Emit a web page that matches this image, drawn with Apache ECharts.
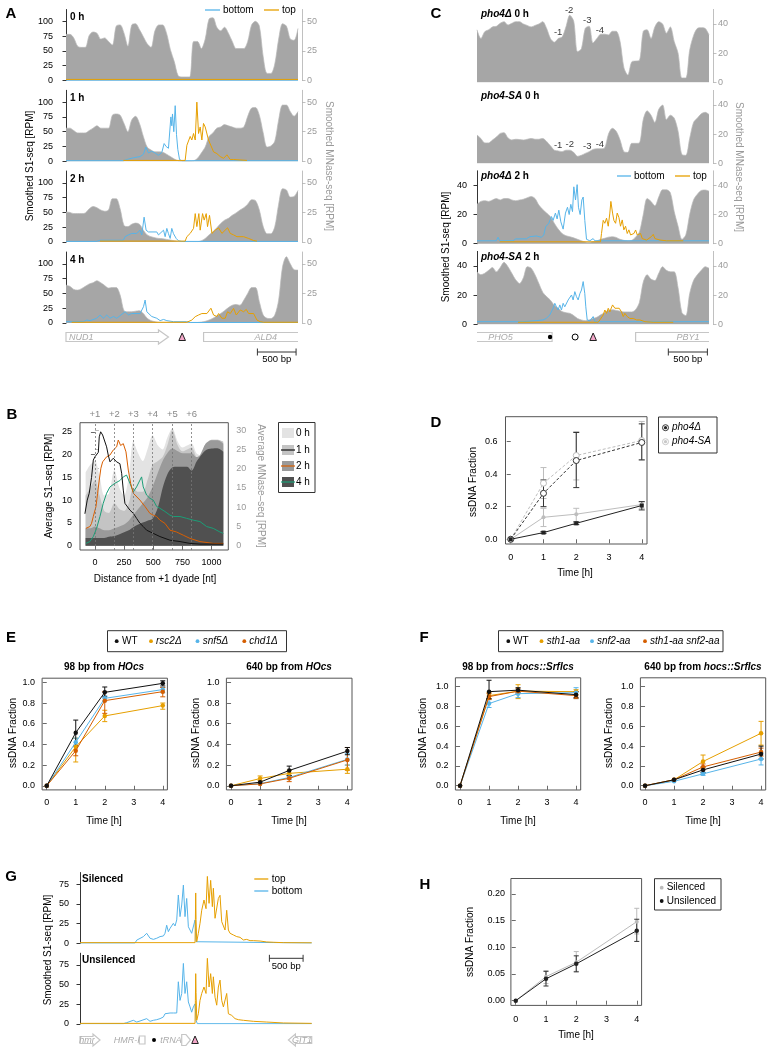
<!DOCTYPE html>
<html>
<head>
<meta charset="utf-8">
<title>S1-seq figure</title>
<script src="https://cdn.jsdelivr.net/npm/echarts@6.0.0/dist/echarts.min.js"></script>
<style>
html,body{margin:0;padding:0;background:#fff;}
#chart{width:774px;height:1050px;}
</style>
</head>
<body>
<div id="chart"></div>
<script>
// ======================= DATA =======================
// genomic positions (bp) for MNase profiles in panels A and C
const posA = [0,50,100,150,200,250,300,350,400,450,500,550,600,650,700,750,800,850,900,950,1000,1050,1100,1150,1200,1250,1300,1350,1400,1450,1500,1550,1600,1650,1700,1750,1800,1850,1900,1950,2000,2050,2100,2150,2200,2250,2300,2350,2400,2450,2500,2550,2600,2650,2700,2750,2800,2850,2900,2950,3000];

// Panel A: smoothed MNase-seq (RPM)
const mnA0 = [39,39,36,29,28,28,38,41,40,35,36,33,30,46,47,40,29,47,48,43,37,31,28,42,47,47,40,26,16,4,3,3,3,33,33,27,35,52,53,45,42,45,40,33,27,27,27,33,47,50,46,20,6,6,14,35,48,46,35,34,44];
const mnA1 = [28,28,26,24,24,24,26,28,30,28,28,28,39,40,39,32,25,35,38,32,21,12,9.5,8,8,7.6,6,4,2,0.5,0.3,0.3,0.3,0.5,2.5,7,12,21,24,28,29,31,30,29,28,28,29,38,45,45.5,39,24,12,13,17,35,47.5,47.5,42,38,42];
const mnA2 = [25.4,25,24,24,24,24.5,28,30,29,27,26,27,36.6,36.6,28,14,13,15,16,15,10,6,4.5,3.6,3,2.8,2.2,1.7,1,0.5,0.3,0.3,0.3,0.3,0.3,1,3,6,8.7,12,15.6,18.4,20,22.6,24.6,27,29,32,35.8,35,27,13,7,7,13,32,45,44,38,38.5,43.6];
const mnA4 = [32,31,28.4,27.8,29,31,33,34,35.7,34,31.7,29.5,30,30,23.6,10.4,9.5,9.5,10,10.4,8,4,2,1.1,0.5,0.5,0.5,0.5,0.5,0.5,0.5,0.5,0.5,0.5,0.5,0.8,1.4,2.5,4,6,8,10.4,13,15,15.7,15,19.4,25,30,30,18,6.7,4,3.7,6.7,19.4,47.5,56,50,45,44.7];

// Panel A: smoothed S1-seq (RPM), [bp, value]
const s1A0bottom = [[0,0.6],[3000,0.6]];
const s1A0top = [[0,1.8],[3000,1.8]];
const s1A1bottom = [[0,1],[742,1],[786,3],[872,6],[958,8],[1002,12],[1032,24],[1066,14],[1109,17],[1153,14],[1196,10],[1239,15],[1269,30],[1295,25],[1325,22],[1356,75],[1368,60],[1377,80],[1394,50],[1412,94],[1429,45],[1446,20],[1468,3],[1498,1],[3000,1]];
const s1A1top = [[742,1.5],[1541,1.5],[1563,27],[1585,30],[1606,42],[1627,36],[1649,47],[1671,36],[1692,100],[1714,47],[1735,58],[1757,36],[1778,64],[1800,58],[1822,61],[1843,36],[1865,39],[1908,16],[1951,13],[1973,16],[1994,8],[2038,5],[2081,11],[2124,3],[2167,3],[2340,1.5]];
const s1A2bottom = [[0,1],[397,1],[440,3],[742,3],[764,9],[807,12],[850,14.5],[915,14.5],[958,20],[980,12],[1010,42],[1036,20],[1066,17],[1174,17],[1196,12],[1261,20],[1282,9],[1304,23],[1325,14],[1347,6],[1368,23],[1390,14],[1425,6],[1455,2],[1498,1],[3000,1]];
const s1A2top = [[440,1.5],[1541,1.5],[1563,9],[1606,14.5],[1649,23],[1671,48],[1692,26],[1718,48],[1735,20],[1766,48],[1787,37],[1813,48],[1830,26],[1856,45],[1887,14.5],[1930,20],[1973,24],[2016,14.5],[2089,24],[2124,14.5],[2167,12],[2210,9],[2297,9],[2318,12],[2361,6],[2426,2.5],[2469,1.5]];
const s1A4bottom = [[0,2.2],[224,2.2],[268,5],[311,4],[397,8],[440,13.5],[484,8],[527,13.5],[570,8],[613,11],[656,8],[764,19],[807,13.5],[850,16],[958,16],[980,19],[1002,27.5],[1023,38.8],[1045,19],[1066,16],[1109,11],[1174,8],[1217,4],[1261,6],[1304,4],[1390,2.2],[1563,2.2],[1606,0.8],[3000,0.8]];
const s1A4top = [[73,1.2],[1563,1.2],[1627,5],[1671,10.7],[1714,13.5],[1757,16],[1778,13.5],[1822,16],[1874,25],[1908,13.5],[1951,11],[1973,16],[2016,8],[2059,8],[2089,19],[2124,16],[2167,24.7],[2202,13.5],[2253,22],[2297,19],[2331,23],[2361,16],[2426,16],[2469,5],[2512,2.2],[2556,1.2],[3000,1.2]];

// Panel C: smoothed MNase-seq (RPM)
const mnCd0 = [36,30,34.7,36,38,38.4,40.5,41.6,39.3,40.5,41.6,41.6,40,39,38,39,40,41.6,37,30,27.5,30,31,38,46,42,21,23,37,38.5,27,30,33,33,32.5,35,35,28,10,5,14,14.6,15,35,36,30,38,41.6,40,33.7,38,28,20,3,3,22,32,37,37.5,37,32.5];
const mnCsa0 = [19.4,17,14,14,16,18,20.5,21,17.5,16,16.5,16.3,16,16.5,17,16.5,16.5,17,15,12,9,8.5,8,9,9,7.5,4.8,5.5,6.8,8,9.5,10,10,10.5,20,24,22,16,8,7.5,13.7,13.7,14,30,36,33,28,37,40,30,33,31,22,6,5.5,17,28,31,34,35,33.5];
const mnCd2 = [27,29,29.5,29,30,31,30,31,31,30,29.5,30,30.5,31.5,32.4,31,26.5,23.5,21,18.5,14,10,7,5.5,4.8,4,3,2,1.2,0.8,1.5,2,3,3.7,4.5,4.8,4.3,3,2.3,2,2.3,4.5,8,20,31,29,26,32,37,37,35,22,12,3,6,20,30,34,36.5,36.8,36];
const mnCsa2 = [36,34,35,37,39,36,39,42.5,39.5,35,30.5,28,32,39.5,38.5,34,28,22,19,16.5,13,11,8.7,8,7.5,6,4,3,2.5,3,4,4.8,6.5,8,9.6,10,9.5,9,8.5,8.5,8.5,10,15,29,34,31,30,35,39.5,37,36,36,25,8,6,21,30,34,37,39.5,38.5];
// Panel C nucleosome labels [bp, MNase, label]
const nucCd0 = [[1049,34.3,'-1'],[1192,49.4,'-2'],[1425,42.7,'-3'],[1589,35.4,'-4']];
const nucCsa0 = [[1049,12.1,'-1'],[1200,13.3,'-2'],[1425,11.4,'-3'],[1589,13.3,'-4']];
// Panel C: smoothed S1-seq
const s1Cd2bottom = [[0,2],[250,2],[272,4.4],[294,2],[466,2],[501,3.3],[639,3.3],[682,4.8],[768,5.3],[833,4.4],[863,6],[889,11.7],[928,14],[963,18.6],[984,16],[1014,21],[1036,17],[1058,23],[1084,15],[1114,10],[1144,21],[1170,25],[1192,20],[1213,27],[1235,22],[1252,39],[1274,30],[1295,40.5],[1312,25],[1334,20],[1356,30],[1373,32],[1394,16],[1416,3],[1459,2],[1502,3.5],[1524,2],[3000,2]];
const s1Cd2top = [[294,1.3],[1597,1.3],[1610,7],[1632,16],[1653,14],[1675,17.5],[1697,12],[1718,21],[1731,29],[1753,21],[1770,16],[1792,14],[1813,21],[1835,18],[1856,12],[1878,16.3],[1899,9.5],[1921,12],[1943,7],[1964,9.5],[1986,6],[2007,5],[2029,7],[2051,9.4],[2072,6],[2094,5],[2115,7],[2137,3.5],[2193,2.5],[2258,5],[2279,6.4],[2301,3.5],[2366,2.5],[2452,2],[2668,2]];
const s1Csa2bottom = [[0,1.8],[531,1.8],[553,2.5],[596,1.8],[768,2.5],[855,3],[898,4.1],[941,6.4],[984,11],[1006,14.4],[1027,12],[1049,9.8],[1071,13.3],[1092,9.8],[1114,14.4],[1135,12],[1157,11],[1179,16.7],[1200,15.5],[1222,20.1],[1243,16.7],[1265,22.4],[1286,19],[1308,16.7],[1330,21],[1351,23.5],[1373,29.3],[1394,21],[1407,12],[1425,3],[1459,2.3],[1502,5.3],[1524,1.8],[3000,1.8]];
const s1Csa2top = [[531,1.4],[1567,1.4],[1589,3],[1632,6.4],[1653,9.8],[1675,7.5],[1697,11],[1718,8.5],[1727,10],[1753,13.3],[1783,11],[1804,9.8],[1839,11],[1869,8.5],[1891,5.3],[1912,7.5],[1943,5.3],[1977,4],[2020,4],[2064,3],[2107,3],[2171,1.8],[2279,1.4],[2538,1.4]];

// Panel B: average MNase-seq layers and S1-seq lines
const bX = [-80,-40,0,40,80,120,166,210,250,290,329,370,410,450,494,540,580,620,663,710,750,790,829,870,900,950,1000,1050,1100];
const bMN0 = [19,21,22,18,13,13.5,19.6,15,13,18,27,24,22,25,28.7,26,25,28,30.4,27,25.5,26,26.5,24,23.5,26.5,27.5,27.5,26];
const bMN1 = [13,15,17,13,9,8.5,11,9.5,9,11,15,14,14,17,21,22,23,26,30,26,24.5,25,25.5,23,22.5,26,27.5,27.5,27];
const bMN2 = [4.5,4.5,5,4.5,4,4,4.5,5,5.5,6.5,8,9.5,11,12.5,15.3,19,22,24,25.2,24.5,24,24,24,23,23.5,26.5,27.4,27.4,26.5];
const bMN4 = [2,2,2,2,2,2.3,2.5,3,3.5,4,4.8,5.5,6,6.5,7,10,15,18.5,20.3,20.5,20.5,20.5,19.5,21.8,23.1,24.8,25.2,25.3,24.4];
const bS1h1 = [[-86,7],[-66,10],[-49,11.5],[-29,15],[-14,18.8],[0,19.5],[14,19.9],[29,20.5],[37,23.9],[49,25],[66,24.3],[77,23.9],[100,21.7],[114,19.9],[129,18.4],[157,19.2],[186,18.4],[214,18],[229,15.9],[243,12.2],[257,9.3],[300,7.8],[329,7.1],[357,6],[386,4.9],[414,4.2],[443,3.4],[500,2.7],[557,2],[643,1.2],[729,0.9],[814,0.5],[900,0.35],[1100,0.35]];
const bS1h2 = [[-77,3.8],[-43,4.2],[-29,4.9],[-14,6.4],[9,8.6],[23,11.5],[37,14.4],[51,17],[66,18.4],[77,18.8],[100,19.5],[129,19.9],[157,21],[186,21.7],[200,23.2],[220,22],[243,22.4],[266,20.6],[286,16.6],[306,13.7],[329,11.5],[386,10],[429,8.6],[471,7.1],[500,6.7],[529,6.4],[557,5.6],[600,4.9],[643,3.4],[700,3],[757,2.3],[814,1.6],[900,0.9],[1014,0.5],[1100,0.5]];
const bS1h4 = [[-77,0.5],[-43,0.9],[-14,2],[14,3.8],[43,6.4],[71,9.3],[100,11.5],[129,12.9],[171,13.7],[214,14.3],[243,15.1],[271,15.5],[286,15.9],[300,13.7],[329,11.8],[357,12.9],[386,14.4],[400,15.1],[414,12.9],[443,11.1],[471,10.4],[500,10],[529,8.6],[557,8.2],[600,7.5],[643,6.7],[671,6.4],[729,6.4],[786,6],[843,5.6],[900,5.3],[957,4.2],[1014,3.8],[1071,3],[1100,2.7]];
const bNucPos = [0,166,329,494,663,829];
const bNucLab = ['+1','+2','+3','+4','+5','+6'];
const bXTicks = [0,250,500,750,1000];

// Panel D: ssDNA fraction
const timesH = [0,1,2,4];
const dPho4dA = [0,0.041,0.098,0.207];
const dPho4dB = [0,0.282,0.483,0.594];
const dPho4saA = [0,0.135,0.154,0.213];
const dPho4saB = [0,0.344,0.514,0.606];
const dPho4dAErr = [[1,0.035,0.047],[2,0.09,0.106],[4,0.18,0.231]];
const dPho4dBErr = [[1,0.2,0.364],[2,0.317,0.655],[4,0.487,0.708]];
const dPho4saAErr = [[1,0.078,0.19],[2,0.108,0.19],[4,0.19,0.23]];
const dPho4saBErr = [[1,0.25,0.44],[2,0.364,0.661],[4,0.487,0.723]];

// Panel E
const eNames = ['rsc2Δ','snf5Δ','chd1Δ','WT'];
const e98 = {'WT':[0,0.513,0.903,0.99],'rsc2Δ':[0,0.377,0.675,0.775],'snf5Δ':[0,0.42,0.845,0.93],'chd1Δ':[0,0.339,0.823,0.91]};
const e98Err = {'WT':[[1,0.39,0.635],[2,0.86,0.955],[4,0.965,1.015]],'rsc2Δ':[[1,0.23,0.46],[2,0.62,0.73],[4,0.74,0.80]],'snf5Δ':[[1,0.38,0.46],[2,0.82,0.87],[4,0.90,0.95]],'chd1Δ':[[1,0.29,0.38],[2,0.70,0.91],[4,0.86,0.95]]};
const e640 = {'WT':[0,0.035,0.148,0.335],'rsc2Δ':[0,0.07,0.12,0.16],'snf5Δ':[0,0.02,0.08,0.255],'chd1Δ':[0,0.018,0.072,0.25]};
const e640Err = {'WT':[[2,0.10,0.19],[4,0.30,0.37]],'rsc2Δ':[[1,0.05,0.095],[2,0.09,0.15],[4,0.12,0.20]],'snf5Δ':[[2,0.06,0.10],[4,0.20,0.31]],'chd1Δ':[[2,0.04,0.10],[4,0.15,0.37]]};

// Panel F
const fNames = ['sth1-aa','snf2-aa','sth1-aa snf2-aa','WT'];
const f98 = {'WT':[0,0.95,0.965,0.92],'sth1-aa':[0,0.91,0.955,0.95],'snf2-aa':[0,0.83,0.93,0.94],'sth1-aa snf2-aa':[0,0.90,0.955,0.91]};
const f98Err = {'WT':[[1,0.88,1.065],[2,0.94,0.99],[4,0.89,0.95]],'sth1-aa':[[1,0.88,0.94],[2,0.88,1.02],[4,0.92,0.97]],'snf2-aa':[[1,0.79,0.87],[2,0.89,0.97],[4,0.88,0.99]],'sth1-aa snf2-aa':[[1,0.87,0.93],[2,0.93,0.98],[4,0.88,0.95]]};
const f640 = {'WT':[0,0.06,0.16,0.32],'sth1-aa':[0,0.06,0.245,0.53],'snf2-aa':[0,0.045,0.12,0.27],'sth1-aa snf2-aa':[0,0.06,0.19,0.34]};
const f640Err = {'WT':[[2,0.13,0.19],[4,0.27,0.40]],'sth1-aa':[[2,0.18,0.31],[4,0.41,0.65]],'snf2-aa':[[2,0.105,0.135],[4,0.21,0.33]],'sth1-aa snf2-aa':[[2,0.16,0.22],[4,0.30,0.38]]};

// Panel G: smoothed S1-seq at HMR
const gSilBottom = [[0,0.4],[817,0.4],[842,4],[941,8.5],[990,12.7],[1015,10.6],[1040,6.4],[1064,7.6],[1089,5],[1139,6.4],[1188,8.5],[1238,9.3],[1262,12.7],[1287,23],[1312,14.8],[1337,19],[1386,25.4],[1411,22],[1436,29.7],[1460,61.4],[1485,33.9],[1510,48.7],[1535,74],[1559,33.9],[1584,57],[1609,21],[1634,19],[1658,12.7],[1683,10.6],[1708,29.7],[1723,2],[1733,0.4],[3440,0.4]];
const gSilTop = [[0,0.8],[1708,0.8],[1713,30],[1718,64],[1723,30],[1733,2],[1757,12.7],[1782,25.4],[1807,42],[1841,55],[1871,44],[1891,85],[1916,50.8],[1940,80],[1965,46.6],[1980,70],[2005,31.8],[2030,29.7],[2054,57],[2079,61],[2104,27.5],[2129,29.7],[2153,16.9],[2178,42],[2203,16.9],[2228,12.7],[2277,10.6],[2327,8.5],[2376,7.6],[2426,4.2],[2475,5],[2525,3.4],[2574,3.4],[2673,2.9],[2772,1.7],[2871,1.3],[3020,0.8],[3440,0.6]];
const gUnsBottom = [[0,0.4],[644,0.4],[693,1.7],[792,4.7],[842,2.5],[891,3.8],[990,6.8],[1040,3.4],[1089,4.7],[1139,5.5],[1188,6.8],[1238,8.9],[1262,13],[1287,15],[1337,14],[1386,14],[1436,14],[1460,53.7],[1485,30],[1510,38.8],[1535,77],[1559,38.8],[1584,53.7],[1609,28],[1634,21.7],[1658,15],[1683,21.7],[1708,25.6],[1723,4.7],[1742,0.4],[3440,0.4]];
const gUnsTop = [[0,0.8],[1708,0.8],[1713,30],[1718,64],[1723,40],[1733,4.7],[1757,13],[1782,30],[1807,38.8],[1841,47],[1871,38.8],[1891,83.5],[1916,47],[1940,64],[1965,38.8],[1980,60],[2005,34],[2030,23.9],[2054,47],[2079,55.8],[2104,30],[2129,21.7],[2153,21.7],[2178,38.8],[2203,13],[2252,11],[2302,6.8],[2351,5.5],[2426,4.7],[2574,3.4],[2772,2.5],[3020,1.3],[3440,0.8]];

// Panel H
const hSil = [0,0.045,0.072,0.148];
const hUns = [0,0.041,0.069,0.131];
const hSilErr = [[1,0.032,0.056],[2,0.055,0.092],[4,0.125,0.173]];
const hUnsErr = [[1,0.0275,0.055],[2,0.054,0.084],[4,0.111,0.1525]];

// Gene annotations (bp)
const genesA = {nud1:[0,1325], cut:1502, ald4:[1779,3000], bar:[2475,2975]};
const genesC = {pho5:[0,971], uas1:945, uas2:1269, cut:1502, pby1:[2051,3000], bar:[2474,2979]};
const genesG = {hmr:[0,297], hmrI:[881,965], dot:1099, trna:[1510,1640], cut:1708, git1:[3094,3440], bar:[2812,3312]};

// ======================= CHART =======================
const FONT = '"Liberation Sans", Arial, Helvetica, sans-serif';
const BLUE = '#56B4E9', ORANGE = '#E69F00', VERM = '#D55E00', TEAL = '#1B9E77', DORANGE = '#D95F02';
const MN_FILL = '#a6a6a6';
const eColors = {'WT':'#111111','rsc2Δ':ORANGE,'snf5Δ':BLUE,'chd1Δ':VERM};
const fColors = {'WT':'#111111','sth1-aa':ORANGE,'snf2-aa':BLUE,'sth1-aa snf2-aa':VERM};

const chart = echarts.init(document.getElementById('chart'));
const grids = [], xAxes = [], yAxes = [], series = [];

function addGrid(l, t, w, h, frame) {
  grids.push({left: l, top: t, width: w, height: h, show: !!frame, borderColor: '#555', borderWidth: frame ? 1 : 0, backgroundColor: 'rgba(0,0,0,0)', containLabel: false});
  return grids.length - 1;
}
function addHiddenX(g, max) {
  xAxes.push({gridIndex: g, type: 'value', min: 0, max: max, show: false});
  return xAxes.length - 1;
}
function addTrackY(g, position, max, ticks, show, right, offset, margin) {
  const lc = right ? '#b0b0b0' : '#000';
  const tc = right ? '#9a9a9a' : '#000';
  yAxes.push({gridIndex: g, type: 'value', position: position, min: 0, max: max, offset: offset, show: show,
    axisLine: {show: true, lineStyle: {color: lc, width: 0.8}},
    axisTick: {show: true, length: 3.5, customValues: ticks, lineStyle: {color: lc, width: 0.8}},
    axisLabel: {show: true, customValues: ticks, fontSize: 9, fontFamily: FONT, color: tc, margin: margin},
    splitLine: {show: false}});
  return yAxes.length - 1;
}
function addMN(xi, yr, mn) {
  series.push({type: 'line', xAxisIndex: xi, yAxisIndex: yr, data: posA.map((p, i) => [p, mn[i]]), symbol: 'none', smooth: 0.3,
    lineStyle: {color: '#b8b8b8', width: 0.7}, areaStyle: {color: MN_FILL, opacity: 1}, z: 1, silent: true});
}
function addS1(xi, yl, data, color, z) {
  series.push({type: 'line', xAxisIndex: xi, yAxisIndex: yl, data: data, symbol: 'none', lineStyle: {color: color, width: 1}, z: z, silent: true});
}
function errSeries(xi, yi, data, color, w) {
  return {type: 'custom', xAxisIndex: xi, yAxisIndex: yi, data: data, encode: {x: 0, y: [1, 2]}, z: 4, silent: true,
    renderItem: function (params, api) {
      const x = api.value(0), lo = api.value(1), hi = api.value(2);
      const a = api.coord([x, lo]), b = api.coord([x, hi]);
      const st = {stroke: color, lineWidth: 1, fill: null};
      return {type: 'group', children: [
        {type: 'line', shape: {x1: a[0], y1: a[1], x2: b[0], y2: b[1]}, style: st},
        {type: 'line', shape: {x1: a[0] - w, y1: a[1], x2: a[0] + w, y2: a[1]}, style: st},
        {type: 'line', shape: {x1: b[0] - w, y1: b[1], x2: b[0] + w, y2: b[1]}, style: st}]};
    }};
}
function rAxes(g, xr, xt, yr, yt, yfmt, xm, ym) {
  const xi = xAxes.length;
  xAxes.push({gridIndex: g, type: 'value', min: xr[0], max: xr[1], axisLine: {show: false},
    axisTick: {show: true, length: 4, customValues: xt, lineStyle: {color: '#444', width: 0.8}},
    axisLabel: {customValues: xt, formatter: function (v) { return String(v); }, fontSize: 9, fontFamily: FONT, color: '#000', margin: xm}, splitLine: {show: false}});
  const yi = yAxes.length;
  yAxes.push({gridIndex: g, type: 'value', min: yr[0], max: yr[1], axisLine: {show: false},
    axisTick: {show: true, length: 4, customValues: yt, lineStyle: {color: '#444', width: 0.8}},
    axisLabel: {customValues: yt, formatter: yfmt, fontSize: 9, fontFamily: FONT, color: '#000', margin: ym}, splitLine: {show: false}});
  return [xi, yi];
}
function ptLine(xi, yi, ys, color, opts) {
  opts = opts || {};
  series.push({type: 'line', xAxisIndex: xi, yAxisIndex: yi, data: timesH.map((t, i) => [t, ys[i]]),
    symbol: opts.symbol || 'circle', symbolSize: opts.size || 4.5, showSymbol: true,
    itemStyle: opts.hollow ? {color: '#fff', borderColor: color, borderWidth: 1} : {color: color, borderWidth: 0},
    lineStyle: {color: color, width: 1, type: opts.dashed ? [3, 2] : 'solid'}, z: opts.z || 5, silent: true});
}

// ---- Panel A ----
const aTops = [9.5, 90.3, 171, 252];
const aMN = [mnA0, mnA1, mnA2, mnA4];
const aBot = [s1A0bottom, s1A1bottom, s1A2bottom, s1A4bottom];
const aTop = [s1A0top, s1A1top, s1A2top, s1A4top];
const aX = [];
aTops.forEach(function (t, k) {
  const g = addGrid(66, t, 232, 71, false);
  const xi = addHiddenX(g, 3000); aX.push(xi);
  const yl = addTrackY(g, 'left', 120, [0, 25, 50, 75, 100], true, false, 4, 9);
  const yr = addTrackY(g, 'right', 60, [0, 25, 50], true, true, 4, 5);
  addMN(xi, yr, aMN[k]);
  addS1(xi, yl, aBot[k], BLUE, 3);
  addS1(xi, yl, aTop[k], ORANGE, 4);
});

// ---- Panel C ----
const cTops = [9.4, 90.4, 170.8, 251.4];
const cMN = [mnCd0, mnCsa0, mnCd2, mnCsa2];
const cBot = [null, null, s1Cd2bottom, s1Csa2bottom];
const cTop = [null, null, s1Cd2top, s1Csa2top];
const cNuc = [nucCd0, nucCsa0, null, null];
const cX = [];
cTops.forEach(function (t, k) {
  const g = addGrid(477, t, 232, 72.9, false);
  const xi = addHiddenX(g, 3000); cX.push(xi);
  const yl = addTrackY(g, 'left', 50, [0, 20, 40], k >= 2, false, 5, 5);
  const yr = addTrackY(g, 'right', 50, [0, 20, 40], true, true, 4, 5);
  addMN(xi, yr, cMN[k]);
  if (cBot[k]) { addS1(xi, yl, cBot[k], BLUE, 3); addS1(xi, yl, cTop[k], ORANGE, 4); }
  if (cNuc[k]) {
    series.push({type: 'scatter', xAxisIndex: xi, yAxisIndex: yr, data: cNuc[k], symbolSize: 0, z: 6, silent: true,
      label: {show: true, position: 'inside', formatter: function (p) { return p.data[2]; }, fontSize: 9.5, fontFamily: FONT, color: '#000'}});
  }
});

// ---- Panel B ----
const gB = addGrid(80, 422.7, 148.3, 127.3, true);
const xB = xAxes.length;
xAxes.push({gridIndex: gB, type: 'value', min: -128, max: 1143, axisLine: {show: false},
  axisTick: {length: 4, customValues: bXTicks, lineStyle: {color: '#444', width: 0.8}},
  axisLabel: {customValues: bXTicks, formatter: function (v) { return String(Math.round(v)); }, fontSize: 9, fontFamily: FONT, color: '#000', margin: 8}, splitLine: {show: false}});
xAxes.push({gridIndex: gB, type: 'value', position: 'top', min: -128, max: 1143, axisLine: {show: false}, axisTick: {show: false},
  axisLabel: {customValues: bNucPos, formatter: function (v) { const i = bNucPos.findIndex(function (p) { return Math.abs(p - v) < 1; }); return i >= 0 ? bNucLab[i] : ''; },
    fontSize: 9.5, fontFamily: FONT, color: '#888', margin: 3}, splitLine: {show: false}});
const yBl = yAxes.length;
yAxes.push({gridIndex: gB, type: 'value', min: -0.95, max: 27, axisLine: {show: false},
  axisTick: {length: 4, customValues: [0, 5, 10, 15, 20, 25], lineStyle: {color: '#444', width: 0.8}},
  axisLabel: {customValues: [0, 5, 10, 15, 20, 25], fontSize: 9, fontFamily: FONT, color: '#000', margin: 8}, splitLine: {show: false}});
const yBr = yAxes.length;
yAxes.push({gridIndex: gB, type: 'value', position: 'right', min: -1.12, max: 31.93, axisLine: {show: false},
  axisTick: {length: 4, customValues: [0, 5, 10, 15, 20, 25, 30], lineStyle: {color: '#aaa', width: 0.8}},
  axisLabel: {customValues: [0, 5, 10, 15, 20, 25, 30], fontSize: 9, fontFamily: FONT, color: '#9a9a9a', margin: 8}, splitLine: {show: false}});
const bLayers = [[bMN0, '#e3e3e3'], [bMN1, '#c4c4c4'], [bMN2, '#9a9a9a'], [bMN4, '#505050']];
bLayers.forEach(function (L, k) {
  const s = {type: 'line', xAxisIndex: xB, yAxisIndex: yBr, data: bX.map(function (x, i) { return [x, L[0][i]]; }), symbol: 'none', smooth: 0.3,
    lineStyle: {width: 0}, areaStyle: {color: L[1], opacity: 1}, z: 1 + k * 0.1, silent: true};
  if (k === 3) {
    s.markLine = {symbol: ['none', 'none'], silent: true, label: {show: false}, lineStyle: {type: [2, 2], color: '#777', width: 0.8},
      data: bNucPos.map(function (v) { return {xAxis: v}; })};
  }
  series.push(s);
});
[[bS1h4, TEAL], [bS1h2, DORANGE], [bS1h1, '#111']].forEach(function (L, k) {
  series.push({type: 'line', xAxisIndex: xB, yAxisIndex: yBl, data: L[0], symbol: 'none', lineStyle: {color: L[1], width: 1}, z: 3 + k * 0.1, silent: true});
});

// ---- Panel D ----
const gD = addGrid(505.5, 416.7, 141.5, 127.3, true);
const aD = rAxes(gD, [-0.16, 4.16], [0, 1, 2, 3, 4], [-0.029, 0.752], [0, 0.2, 0.4, 0.6], function (v) { return v.toFixed(1); }, 9, 8);
series.push(errSeries(aD[0], aD[1], dPho4saBErr, '#bdbdbd', 3));
series.push(errSeries(aD[0], aD[1], dPho4saAErr, '#bdbdbd', 3));
series.push(errSeries(aD[0], aD[1], dPho4dBErr, '#333', 3));
series.push(errSeries(aD[0], aD[1], dPho4dAErr, '#333', 3));
ptLine(aD[0], aD[1], dPho4saB, '#bdbdbd', {dashed: true, hollow: true, size: 6});
ptLine(aD[0], aD[1], dPho4saA, '#bdbdbd', {size: 4});
ptLine(aD[0], aD[1], dPho4dB, '#333', {dashed: true, hollow: true, size: 6, z: 6});
ptLine(aD[0], aD[1], dPho4dA, '#222', {symbol: 'rect', size: 4, z: 6});

// ---- Panels E & F ----
function groupPanel(l, t, w, h, yr, names, vals, errs, colors) {
  const g = addGrid(l, t, w, h, true);
  const a = rAxes(g, [-0.16, 4.16], [0, 1, 2, 3, 4], yr, [0, 0.2, 0.4, 0.6, 0.8, 1.0], function (v) { return v.toFixed(1); }, 8, 7);
  names.forEach(function (n, k) {
    series.push(errSeries(a[0], a[1], errs[n], colors[n], 2.5));
    ptLine(a[0], a[1], vals[n], colors[n], {size: 4.5, z: 5 + k * 0.1});
  });
}
groupPanel(42.1, 678.2, 125.3, 111.7, [-0.04, 1.04], eNames, e98, e98Err, eColors);
groupPanel(226.4, 678.2, 125.6, 111.7, [-0.04, 1.04], eNames, e640, e640Err, eColors);
groupPanel(455.4, 677.8, 125.3, 112.2, [-0.043, 1.09], fNames, f98, f98Err, fColors);
groupPanel(640.4, 677.8, 125.3, 112.2, [-0.043, 1.09], fNames, f640, f640Err, fColors);

// ---- Panel G ----
const gTops = [872.5, 953.2];
const gData = [[gSilBottom, gSilTop], [gUnsBottom, gUnsTop]];
const gX = [];
gTops.forEach(function (t, k) {
  const g = addGrid(80, t, 231.7, 70.8, false);
  const xi = addHiddenX(g, 3440); gX.push(xi);
  const yl = addTrackY(g, 'left', 90, [0, 25, 50, 75], true, false, 6, 5);
  addS1(xi, yl, gData[k][0], BLUE, 3);
  addS1(xi, yl, gData[k][1], ORANGE, 4);
});

// ---- Panel H ----
const gH = addGrid(510.9, 878.5, 130.7, 126.9, true);
const aH = rAxes(gH, [-0.16, 4.16], [0, 1, 2, 3, 4], [-0.0088, 0.2288], [0, 0.05, 0.1, 0.15, 0.2], function (v) { return v.toFixed(2); }, 10, 6);
series.push(errSeries(aH[0], aH[1], hSilErr, '#bbbbbb', 2.5));
ptLine(aH[0], aH[1], hSil, '#bbbbbb', {size: 4});
series.push(errSeries(aH[0], aH[1], hUnsErr, '#333', 2.5));
ptLine(aH[0], aH[1], hUns, '#222', {size: 4.5, z: 6});

chart.setOption({animation: false, backgroundColor: '#fff', textStyle: {fontFamily: FONT}, grid: grids, xAxis: xAxes, yAxis: yAxes, series: series});

// ======================= ANNOTATIONS =======================
const X = function (xi, v) { return chart.convertToPixel({xAxisIndex: xi}, v); };
const GR = [];
function T(x, y, text, o) {
  o = o || {};
  const st = {text: text, fill: o.color || '#000', fontSize: o.size || 10, fontFamily: FONT, fontWeight: o.weight || 'normal', fontStyle: o.style || 'normal',
    align: o.align || 'left', verticalAlign: 'middle', textAlign: o.align || 'left', textVerticalAlign: 'middle'};
  if (o.rich) st.rich = o.rich;
  GR.push({type: 'text', x: x, y: y, rotation: o.rot || 0, z: 50, silent: true, style: st});
}
function Ln(x1, y1, x2, y2, color, w, op) { GR.push({type: 'line', z: 50, silent: true, shape: {x1: x1, y1: y1, x2: x2, y2: y2}, style: {stroke: color, lineWidth: w || 1, opacity: op == null ? 1 : op}}); }
function Rc(x, y, w, h, stroke, fill, lw) { GR.push({type: 'rect', z: 49, silent: true, shape: {x: x, y: y, width: w, height: h}, style: {stroke: stroke || null, fill: fill || null, lineWidth: lw || 1}}); }
function Pg(points, stroke, fill, lw, open) { GR.push({type: open ? 'polyline' : 'polygon', z: 50, silent: true, shape: {points: points}, style: {stroke: stroke, fill: fill || null, lineWidth: lw || 1}}); }
function Ci(cx, cy, r, stroke, fill, lw) { GR.push({type: 'circle', z: 51, silent: true, shape: {cx: cx, cy: cy, r: r}, style: {stroke: stroke || null, fill: fill || null, lineWidth: lw || 1}}); }
const GENE = '#c6c6c6';
function arrowR(x0, x1, y, bh, hh, hl) { Pg([[x0, y - bh], [x1 - hl, y - bh], [x1 - hl, y - hh], [x1, y], [x1 - hl, y + hh], [x1 - hl, y + bh], [x0, y + bh]], GENE, '#fff', 1.2); }
function arrowL(x0, x1, y, bh, hh, hl) { Pg([[x1, y - bh], [x0 + hl, y - bh], [x0 + hl, y - hh], [x0, y], [x0 + hl, y + hh], [x0 + hl, y + bh], [x1, y + bh]], GENE, '#fff', 1.2); }
function cutTri(x, y) { Pg([[x, y - 4], [x - 3.3, y + 3.5], [x + 3.3, y + 3.5]], '#222', '#f3a6c8', 1); }
function scaleBar(xi, b, y, ty) {
  const x0 = X(xi, b[0]), x1 = X(xi, b[1]);
  Ln(x0, y, x1, y, '#333', 1); Ln(x0, y - 3.5, x0, y + 3.5, '#333', 1); Ln(x1, y - 3.5, x1, y + 3.5, '#333', 1);
  T((x0 + x1) / 2, ty, '500 bp', {align: 'center', size: 9.5});
}

// panel letters
[['A', 11, 14], ['B', 12, 415], ['C', 436, 14], ['D', 436, 423], ['E', 11, 638], ['F', 424, 638], ['G', 11, 877], ['H', 425, 885]].forEach(function (p) {
  T(p[1], p[2], p[0], {align: 'center', size: 15, weight: 'bold'});
});

// Panel A texts
['0 h', '1 h', '2 h', '4 h'].forEach(function (s, k) { T(70, [17.5, 98, 179, 260][k], s, {weight: 'bold'}); });
T(30, 166, 'Smoothed S1-seq [RPM]', {align: 'center', rot: Math.PI / 2});
T(329, 166, 'Smoothed MNase-seq [RPM]', {align: 'center', rot: -Math.PI / 2, color: '#9a9a9a'});
Ln(205, 10, 220, 10, BLUE, 2, 0.65); T(223, 10, 'bottom');
Ln(264, 10, 279, 10, ORANGE, 2, 0.65); T(282, 10, 'top');
// A genes
(function () {
  const xi = aX[3], y = 337;
  arrowR(X(xi, genesA.nud1[0]), X(xi, genesA.nud1[1]), y, 4.5, 7, 10);
  T(69, y, 'NUD1', {size: 9, style: 'italic', color: '#aaa'});
  const a0 = X(xi, genesA.ald4[0]), a1 = X(xi, genesA.ald4[1]);
  Pg([[a1, y - 4.5], [a0, y - 4.5], [a0, y + 4.5], [a1, y + 4.5]], GENE, null, 1.2, true);
  T(277, y, 'ALD4', {size: 9, style: 'italic', color: '#aaa', align: 'right'});
  cutTri(X(xi, genesA.cut), y);
  scaleBar(xi, genesA.bar, 352, 359);
})();

// Panel C texts
const richT = {a: {fontStyle: 'italic', fontWeight: 'bold', fontSize: 10, fontFamily: FONT}, b: {fontWeight: 'bold', fontSize: 10, fontFamily: FONT}};
[['pho4Δ', ' 0 h', 14], ['pho4-SA', ' 0 h', 96], ['pho4Δ', ' 2 h', 176], ['pho4-SA', ' 2 h', 257]].forEach(function (p) {
  T(481, p[2], '{a|' + p[0] + '}{b|' + p[1] + '}', {rich: richT});
});
T(446, 247, 'Smoothed S1-seq [RPM]', {align: 'center', rot: Math.PI / 2});
T(739, 167, 'Smoothed MNase-seq [RPM]', {align: 'center', rot: -Math.PI / 2, color: '#9a9a9a'});
Ln(617, 176, 631, 176, BLUE, 2, 0.65); T(634, 176, 'bottom');
Ln(675, 176, 690, 176, ORANGE, 2, 0.65); T(693, 176, 'top');
(function () {
  const xi = cX[3], y = 337;
  const p0 = X(xi, genesC.pho5[0]), p1 = X(xi, genesC.pho5[1]);
  Pg([[p0, y - 4.5], [p1, y - 4.5], [p1, y + 4.5], [p0, y + 4.5]], GENE, null, 1.2, true);
  T((p0 + p1) / 2 - 14, y, 'PHO5', {size: 9, style: 'italic', color: '#aaa', align: 'center'});
  Ci(X(xi, genesC.uas1), y, 2.2, null, '#000');
  Ci(X(xi, genesC.uas2), y, 3, '#000', '#fff', 1);
  cutTri(X(xi, genesC.cut), y);
  const b0 = X(xi, genesC.pby1[0]), b1 = X(xi, genesC.pby1[1]);
  Pg([[b1, y - 4.5], [b0, y - 4.5], [b0, y + 4.5], [b1, y + 4.5]], GENE, null, 1.2, true);
  T(688, y, 'PBY1', {size: 9, style: 'italic', color: '#aaa', align: 'center'});
  scaleBar(xi, genesC.bar, 352, 359);
})();

// Panel B texts & legend
T(49, 486, 'Average S1\u2013seq [RPM]', {align: 'center', rot: Math.PI / 2});
T(260.5, 486, 'Average MNase\u2013seq [RPM]', {align: 'center', rot: -Math.PI / 2, color: '#9a9a9a'});
T(155, 579, 'Distance from +1 dyade [nt]', {align: 'center'});
Rc(278.5, 422.5, 36.5, 70, '#333', '#fff', 1);
[['0 h', '#e3e3e3', null, 433], ['1 h', '#c4c4c4', '#111', 450], ['2 h', '#9a9a9a', DORANGE, 466], ['4 h', '#505050', TEAL, 482]].forEach(function (r) {
  GR.push({type: 'rect', z: 50, silent: true, shape: {x: 282, y: r[3] - 5, width: 12, height: 10}, style: {fill: r[1], stroke: null}});
  if (r[2]) Ln(281, r[3], 295, r[3], r[2], 1.2);
  T(296, r[3], r[0], {size: 10});
});

// Panel D texts & legend
T(473, 482, 'ssDNA Fraction', {align: 'center', rot: Math.PI / 2});
T(575, 573, 'Time [h]', {align: 'center'});
Rc(658.5, 417, 58.5, 36, '#333', '#fff', 1);
Ci(665.5, 427.7, 3, '#333', '#fff', 1); Ci(665.5, 427.7, 1.6, null, '#222');
Ci(665.5, 441.7, 3, '#c8c8c8', '#fff', 1); Ci(665.5, 441.7, 1.6, null, '#c8c8c8');
T(672, 427.7, 'pho4Δ', {style: 'italic'});
T(672, 441.7, 'pho4-SA', {style: 'italic'});

// Panel E texts & legend
const richB = {a: {fontWeight: 'bold', fontSize: 10, fontFamily: FONT}, i: {fontWeight: 'bold', fontStyle: 'italic', fontSize: 10, fontFamily: FONT}};
T(104, 667, '{a|98 bp from }{i|HOcs}', {align: 'center', rich: richB});
T(289, 667, '{a|640 bp from }{i|HOcs}', {align: 'center', rich: richB});
T(13, 733, 'ssDNA Fraction', {align: 'center', rot: Math.PI / 2});
T(196, 733, 'ssDNA Fraction', {align: 'center', rot: Math.PI / 2});
T(104, 821, 'Time [h]', {align: 'center'});
T(289, 821, 'Time [h]', {align: 'center'});
Rc(107.5, 630.7, 179, 21, '#333', '#fff', 1);
[['WT', 116.7, 122, false], ['rsc2Δ', 151, 156, true], ['snf5Δ', 197.5, 202.7, true], ['chd1Δ', 244.3, 249.3, true]].forEach(function (p) {
  Ci(p[1], 641.2, 1.9, null, eColors[p[0]]);
  T(p[2], 641.2, p[0], {style: p[3] ? 'italic' : 'normal'});
});

// Panel F texts & legend
T(518, 667, '{a|98 bp from }{i|hocs::SrfIcs}', {align: 'center', rich: richB});
T(703, 667, '{a|640 bp from }{i|hocs::SrfIcs}', {align: 'center', rich: richB});
T(423, 733, 'ssDNA Fraction', {align: 'center', rot: Math.PI / 2});
T(609, 733, 'ssDNA Fraction', {align: 'center', rot: Math.PI / 2});
T(518, 821, 'Time [h]', {align: 'center'});
T(703, 821, 'Time [h]', {align: 'center'});
Rc(498.5, 630.7, 224.5, 21, '#333', '#fff', 1);
[['WT', 508.3, 513, false], ['sth1-aa', 541.5, 546.7, true], ['snf2-aa', 592, 597, true], ['sth1-aa snf2-aa', 645, 650, true]].forEach(function (p) {
  Ci(p[1], 641.2, 1.9, null, fColors[p[0]]);
  T(p[2], 641.2, p[0], {style: p[3] ? 'italic' : 'normal'});
});

// Panel G texts & legend
T(82, 879.3, 'Silenced', {weight: 'bold'});
T(82, 960, 'Unsilenced', {weight: 'bold'});
T(48, 950, 'Smoothed S1-seq [RPM]', {align: 'center', rot: Math.PI / 2});
Ln(254.3, 879, 268.3, 879, ORANGE, 2, 0.65); T(271.7, 879, 'top');
Ln(254.3, 891, 268.3, 891, BLUE, 2, 0.65); T(271.7, 891, 'bottom');
(function () {
  const xi = gX[1], y = 1040;
  arrowR(X(xi, genesG.hmr[0]), X(xi, genesG.hmr[1]), y, 3.5, 6, 7);
  T(87, y, 'hmr', {size: 9, style: 'italic', color: '#aaa', align: 'center'});
  T(126.7, y, 'HMR-I', {size: 9, style: 'italic', color: '#aaa', align: 'center'});
  const h0 = X(xi, genesG.hmrI[0]), h1 = X(xi, genesG.hmrI[1]);
  Rc(h0, y - 4, h1 - h0, 8, GENE, '#fff', 1.2);
  Ci(X(xi, genesG.dot), y, 2, null, '#000');
  T(171, y, 'tRNA', {size: 9, style: 'italic', color: '#aaa', align: 'center'});
  const t0 = X(xi, genesG.trna[0]), t1 = X(xi, genesG.trna[1]);
  Pg([[t0, y - 5.5], [t1 - 4.5, y - 5.5], [t1, y], [t1 - 4.5, y + 5.5], [t0, y + 5.5]], GENE, '#fff', 1.2);
  cutTri(X(xi, genesG.cut), y);
  arrowL(X(xi, genesG.git1[0]), X(xi, genesG.git1[1]), y, 3.5, 6, 7);
  T(302, y, 'GIT1', {size: 9, style: 'italic', color: '#aaa', align: 'center'});
  scaleBar(xi, genesG.bar, 958.3, 966.5);
})();

// Panel H texts & legend
T(470, 942, 'ssDNA Fraction', {align: 'center', rot: Math.PI / 2});
T(576, 1035, 'Time [h]', {align: 'center'});
Rc(654.5, 878.7, 66.5, 31.3, '#333', '#fff', 1);
Ci(661.7, 887.7, 1.9, null, '#bbbbbb'); T(666.7, 887.7, 'Silenced');
Ci(661.7, 901, 1.9, null, '#111'); T(666.7, 901, 'Unsilenced');

chart.setOption({graphic: GR});
</script>
</body>
</html>
